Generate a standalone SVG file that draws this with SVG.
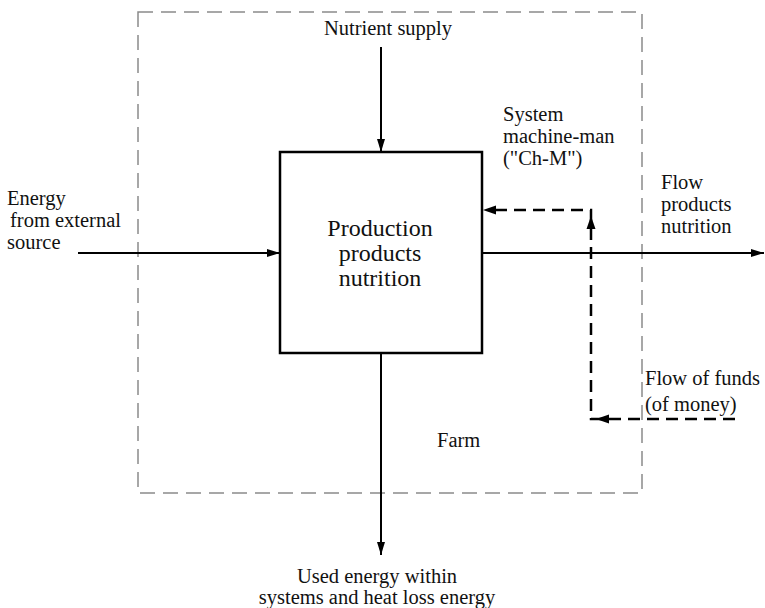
<svg xmlns="http://www.w3.org/2000/svg" width="765" height="608" viewBox="0 0 765 608" font-family="'Liberation Serif', 'Times New Roman', 'DejaVu Serif', serif">
<style>
  text { font-family: "Liberation Serif", "Times New Roman", Times, "DejaVu Serif", serif; fill: #111; }
  .lbl { font-size: 20.5px; }
  .ctr { font-size: 24px; text-anchor: middle; }
  .solid { stroke: #000; stroke-width: 2; fill: none; }
  .dash { stroke: #000; stroke-width: 2.5; fill: none; stroke-dasharray: 12 7; }
  .bound { stroke: #8a8a8a; stroke-width: 1.5; fill: none; stroke-dasharray: 15 8; }
</style>
<defs>
  <marker id="ah" markerWidth="14" markerHeight="10" refX="13" refY="5" orient="auto" markerUnits="userSpaceOnUse">
    <path d="M0,1 L13,5 L0,9 Z" fill="#000"/>
  </marker>
  <path id="head" d="M0,0 L-13,-4.5 L-13,4.5 Z" fill="#000"/>
</defs>
<rect width="765" height="608" fill="#fff"/>

<g id="farm-boundary">
  <rect class="bound" x="138" y="12" width="504" height="481"/>
  <text class="lbl" x="437" y="447">Farm</text>
</g>

<g id="production">
  <rect x="280" y="152" width="202" height="201" fill="#fff" stroke="#000" stroke-width="2.5"/>
  <text class="ctr" x="380" y="236">Production</text>
  <text class="ctr" x="380" y="261">products</text>
  <text class="ctr" x="380" y="286">nutrition</text>
</g>

<g id="nutrient-supply">
  <text class="lbl" x="388" y="35" text-anchor="middle">Nutrient supply</text>
</g>

<g id="energy-source">
  <text class="lbl" x="7" y="205">Energy</text>
  <text class="lbl" x="10" y="227">from external</text>
  <text class="lbl" x="7" y="249">source</text>
</g>

<g id="system-label">
  <text class="lbl" x="503" y="121">System</text>
  <text class="lbl" x="503" y="143">machine-man</text>
  <text class="lbl" x="503" y="165">("Ch-M")</text>
</g>

<g id="flow-products">
  <text class="lbl" x="661" y="189">Flow</text>
  <text class="lbl" x="661" y="211">products</text>
  <text class="lbl" x="661" y="233">nutrition</text>
</g>

<g id="flow-funds">
  <text class="lbl" x="645" y="385">Flow of funds</text>
  <text class="lbl" x="645" y="411">(of money)</text>
</g>

<g id="used-energy">
  <text class="lbl" x="377" y="583" text-anchor="middle">Used energy within</text>
  <text class="lbl" x="377" y="604" text-anchor="middle">systems and heat loss energy</text>
</g>

<g id="connectors">
  <line class="solid" x1="381" y1="47" x2="381" y2="152" marker-end="url(#ah)"/>
  <line class="solid" x1="78" y1="253" x2="280" y2="253" marker-end="url(#ah)"/>
  <line class="solid" x1="482" y1="253" x2="764" y2="253" marker-end="url(#ah)"/>
  <line class="solid" x1="381" y1="353" x2="381" y2="555" marker-end="url(#ah)"/>
  <path class="dash" d="M735,419 H591 V210 H496"/>
  <use href="#head" transform="translate(483,210) rotate(180)"/>
  <use href="#head" transform="translate(591,216) rotate(-90)"/>
  <use href="#head" transform="translate(596,419) rotate(180)"/>
</g>
</svg>
